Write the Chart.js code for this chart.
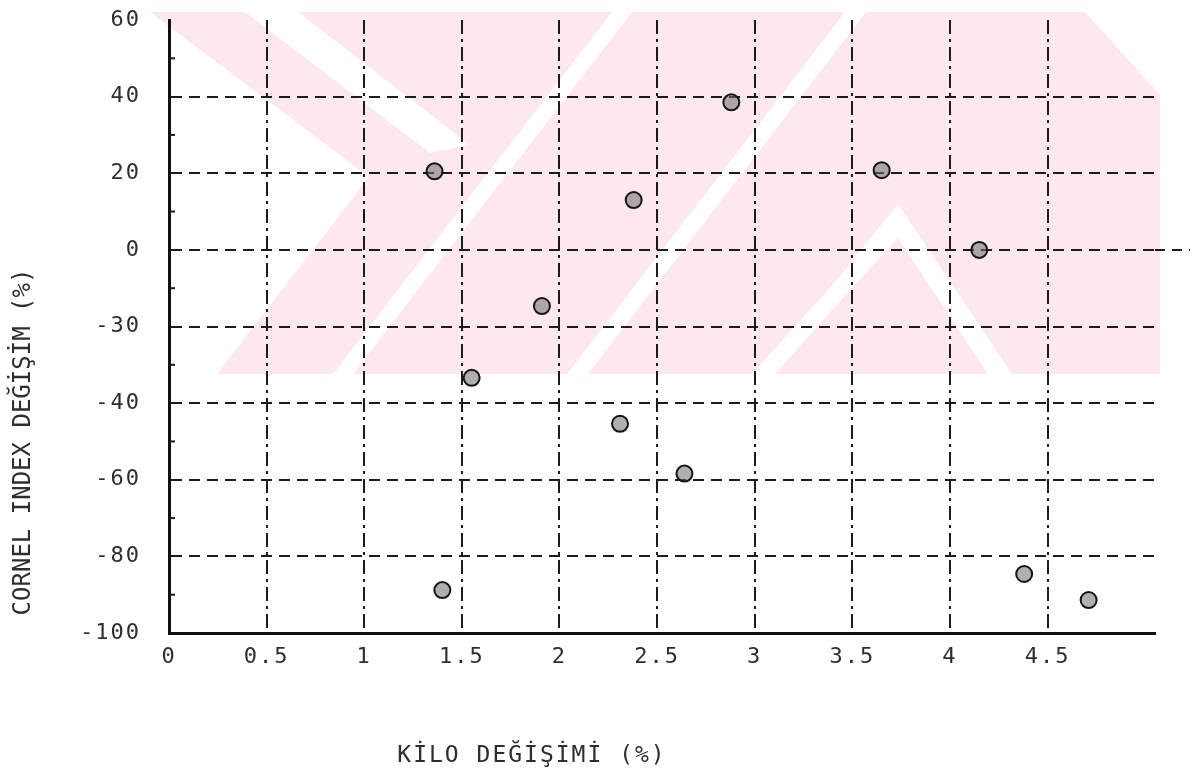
<!DOCTYPE html>
<html lang="tr">
<head>
<meta charset="utf-8">
<title>Kilo değişimi – Cornel index değişimi</title>
<script src="https://cdn.jsdelivr.net/npm/chart.js@4.4.1/dist/chart.umd.min.js"></script>
<style>
  html, body { margin: 0; padding: 0; background: #ffffff; }
  #wrap { width: 1192px; height: 779px; position: relative; }
</style>
</head>
<body>
<div id="wrap"><canvas id="chart" width="1192" height="779"></canvas></div>
<script>
// Weight change (%) on x, Cornell index change (%) on y
const kiloDegisimi = [1.36, 2.38, 2.88, 3.65, 4.15, 1.91, 1.55, 2.31, 2.64, 1.40, 4.38, 4.71];
const cornelDegisim = [20.5, 13, 38.5, 20.8, 0, -22, -36.7, -45.4, -58.4, -88.8, -84.6, -91.4];

// x tick labels and the (unevenly valued, evenly spaced) y tick labels
const xTicks = [0, 0.5, 1, 1.5, 2, 2.5, 3, 3.5, 4, 4.5];
const yTicks = [-100, -80, -60, -40, -30, 0, 20, 40, 60];

const xTitle = 'KİLO DEĞİŞİMİ (%)';
const yTitle = 'CORNEL INDEX DEĞİŞİM (%)';

const FONT = "'DejaVu Sans Mono', 'Liberation Mono', monospace";
const INK = '#2e2e2e';

// Value axis whose labelled ticks sit at equal steps; values in between
// are placed linearly inside their step.
function valueToFraction(v) {
  const n = yTicks.length - 1;
  if (v <= yTicks[0]) return 0;
  if (v >= yTicks[n]) return 1;
  for (let i = 0; i < n; i++) {
    const a = yTicks[i], b = yTicks[i + 1];
    if (v >= a && v <= b) return (i + (v - a) / (b - a)) / n;
  }
  return 1;
}
function fractionToValue(f) {
  const n = yTicks.length - 1;
  const pos = Math.min(Math.max(f * n, 0), n);
  const i = Math.min(Math.floor(pos), n - 1);
  return yTicks[i] + (pos - i) * (yTicks[i + 1] - yTicks[i]);
}

class SteppedLinearScale extends Chart.LinearScale {
  static id = 'steppedLinear';
  static defaults = {};
  determineDataLimits() {
    this.min = yTicks[0];
    this.max = yTicks[yTicks.length - 1];
  }
  buildTicks() {
    return yTicks.map(v => ({ value: v }));
  }
  getPixelForValue(value) {
    return this.getPixelForDecimal(valueToFraction(value));
  }
  getValueForPixel(pixel) {
    return fractionToValue(this.getDecimalForPixel(pixel));
  }
}
Chart.register(SteppedLinearScale);

// Faint pink emblem printed behind the grid
const emblem = {
  id: 'emblem',
  beforeDraw(chart) {
    const ctx = chart.ctx;
    ctx.save();
    ctx.fillStyle = '#ffffff';
    ctx.fillRect(0, 0, chart.width, chart.height);
    ctx.beginPath();
    ctx.rect(150, 12, 1010, 362);
    ctx.clip();
    const poly = pts => {
      ctx.beginPath();
      ctx.moveTo(pts[0][0], pts[0][1]);
      for (let i = 1; i < pts.length; i++) ctx.lineTo(pts[i][0], pts[i][1]);
      ctx.closePath();
      ctx.fill();
    };
    ctx.fillStyle = '#fde8ed';
    poly([[150, 12], [1085, 12], [1160, 95], [1160, 374], [217, 374], [369, 177]]);
    // pale gaps inside the emblem
    ctx.fillStyle = '#ffffff';
    poly([[245, 12], [298, 12], [470, 145], [430, 153]]);
    poly([[333, 374], [353, 374], [632, 12], [612, 12]]);
    poly([[567, 374], [588, 374], [866, 12], [845, 12]]);
    poly([[898, 204], [1012, 374], [988, 374], [898, 238], [850, 290], [775, 374], [752, 374], [835, 282]]);
    ctx.restore();
    // spaced-out lettering for the tick labels
    ctx.letterSpacing = '2px';
  }
};

// Minor marks on the y axis, the zero line run-out and the axis titles
const decorations = {
  id: 'decorations',
  afterDraw(chart) {
    const ctx = chart.ctx;
    const y = chart.scales.y;
    const area = chart.chartArea;
    ctx.save();
    ctx.strokeStyle = '#1a1a1a';
    ctx.lineWidth = 2;
    for (let i = 0; i < yTicks.length - 1; i++) {
      const py = (y.getPixelForValue(yTicks[i]) + y.getPixelForValue(yTicks[i + 1])) / 2;
      ctx.beginPath();
      ctx.moveTo(area.left, py);
      ctx.lineTo(area.left + 6, py);
      ctx.stroke();
    }
    const y0 = y.getPixelForValue(0);
    ctx.setLineDash([10, 7]);
    ctx.beginPath();
    ctx.moveTo(area.right, y0);
    ctx.lineTo(1190, y0);
    ctx.stroke();
    ctx.setLineDash([]);
    ctx.fillStyle = INK;
    ctx.textAlign = 'center';
    ctx.textBaseline = 'middle';
    ctx.letterSpacing = '2px';
    ctx.font = '23px ' + FONT;
    ctx.fillText(xTitle, 532, 756);
    ctx.letterSpacing = '0px';
    ctx.font = '24px ' + FONT;
    ctx.translate(24, 442);
    ctx.rotate(-Math.PI / 2);
    ctx.fillText(yTitle, 0, 0);
    ctx.restore();
  }
};

const hideEdge = (edgeValues) => (ctx) =>
  (ctx.tick && edgeValues.includes(ctx.tick.value)) ? 'rgba(0,0,0,0)' : '#1c1c1c';

new Chart(document.getElementById('chart'), {
  type: 'scatter',
  data: {
    datasets: [{
      label: yTitle,
      data: kiloDegisimi.map((x, i) => ({ x, y: cornelDegisim[i] })),
      pointRadius: 8,
      pointHoverRadius: 8,
      pointStyle: 'circle',
      backgroundColor: 'rgba(110,110,110,0.55)',
      borderColor: '#151515',
      borderWidth: 2
    }]
  },
  options: {
    responsive: false,
    animation: false,
    devicePixelRatio: 1,
    layout: { padding: { left: 0, top: 20, right: 37, bottom: 0 } },
    plugins: {
      legend: { display: false },
      tooltip: { enabled: false },
      title: { display: false }
    },
    scales: {
      x: {
        type: 'linear',
        min: 0,
        max: 5.05,
        afterBuildTicks: s => { s.ticks = xTicks.map(v => ({ value: v })); },
        afterFit: s => { s.height = 146; s.paddingLeft = 0; s.paddingRight = 0; },
        ticks: {
          color: INK,
          font: { family: FONT, size: 22 },
          padding: 11,
          maxRotation: 0,
          autoSkip: false,
          callback: v => String(v)
        },
        grid: {
          color: hideEdge([0]),
          lineWidth: 2,
          drawTicks: false
        },
        border: {
          display: true,
          color: '#111111',
          width: 3,
          dash: [14, 5, 3, 5]
        }
      },
      y: {
        type: 'steppedLinear',
        afterFit: s => { s.width = 169; s.paddingTop = 0; s.paddingBottom = 0; },
        ticks: {
          color: INK,
          font: { family: FONT, size: 22 },
          padding: 28,
          autoSkip: false,
          callback: v => String(v)
        },
        grid: {
          color: hideEdge([-100, 60]),
          lineWidth: 2,
          drawTicks: false
        },
        border: {
          display: true,
          color: '#111111',
          width: 3,
          dash: [11, 7]
        }
      }
    }
  },
  plugins: [emblem, decorations]
});
</script>
</body>
</html>
